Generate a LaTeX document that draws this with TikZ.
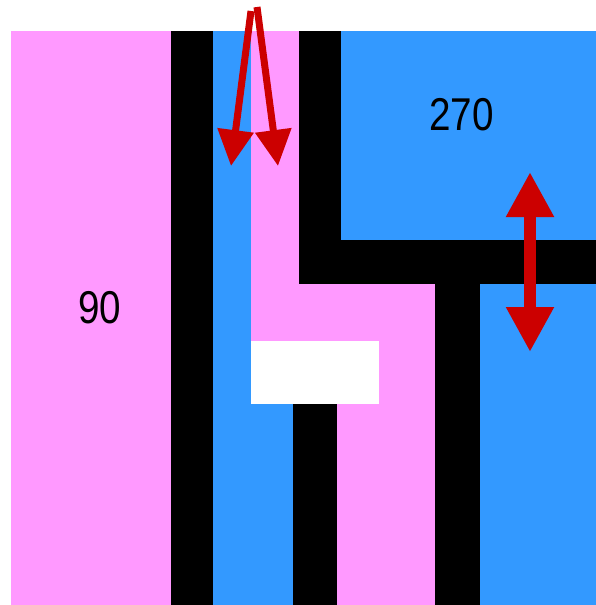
\documentclass[tikz,border=0pt]{standalone}
\usepackage{fontspec}
\setmainfont{Liberation Sans}
\usetikzlibrary{arrows.meta}
\definecolor{pk}{RGB}{255,153,255}
\definecolor{bl}{RGB}{51,153,255}
\definecolor{rd}{RGB}{204,0,0}
\tikzset{
  lbl/.style={inner sep=0pt, font=\fontsize{46}{46}\selectfont},
  thinarrow/.style={rd, line width=7pt, -{Triangle[width=35pt,length=36pt]}},
  thickarrow/.style={rd, line width=12pt, {Triangle[width=45pt,length=45pt]}-{Triangle[width=45pt,length=45pt]}}
}
\begin{document}
\begin{tikzpicture}[x=1pt,y=-1pt]
\useasboundingbox (0,0) rectangle (596,605);
\fill[white] (0,0) rectangle (596,605);
% left pink
\fill[pk] (11,31) rectangle (171,605);
\fill[black] (171,31) rectangle (213,605);
\fill[bl] (213,31) rectangle (251,605);
\fill[bl] (251,404) rectangle (293,605);
% middle pink
\fill[pk] (251,31) rectangle (299,341);
\fill[pk] (251,284) rectangle (435,341);
\fill[pk] (379,341) rectangle (435,404);
\fill[pk] (337,404) rectangle (435,605);
% black bars
\fill[black] (299,31) rectangle (341,284);
\fill[black] (299,240) rectangle (596,284);
\fill[black] (435,284) rectangle (480,605);
\fill[black] (293,404) rectangle (337,605);
% blue right
\fill[bl] (341,31) rectangle (596,240);
\fill[bl] (480,284) rectangle (596,605);
% labels
\node[lbl] (t90) at (100,308) {\scalebox{0.84}[1]{90}};
\node[lbl] (t270) at (461.5,115) {\scalebox{0.84}[1]{270}};
% arrows
\coordinate (a1s) at (251,11);
\coordinate (a1e) at (231,166);
\coordinate (a2s) at (257,7);
\coordinate (a2e) at (278,166);
\coordinate (d1) at (530,172);
\coordinate (d2) at (530,352);
\draw[thinarrow] (a1s) -- (a1e);
\draw[thinarrow] (a2s) -- (a2e);
\draw[thickarrow] (d1) -- (d2);
\end{tikzpicture}
\end{document}
